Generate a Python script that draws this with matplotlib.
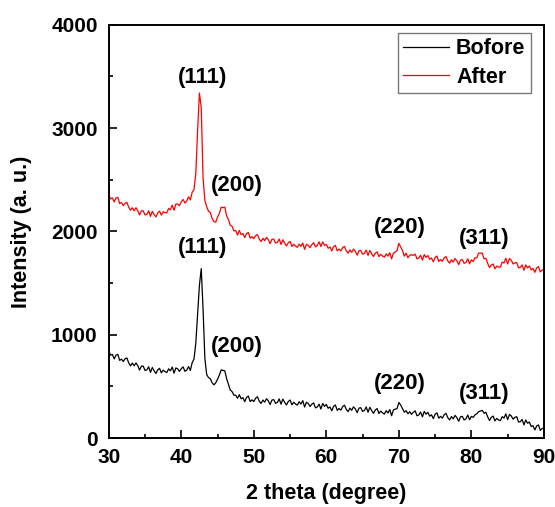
import numpy as np
import matplotlib
matplotlib.use('Agg')
import matplotlib.pyplot as plt
from matplotlib.ticker import MultipleLocator

plt.rcParams['font.family'] = ['Liberation Sans', 'DejaVu Sans']
plt.rcParams['font.weight'] = 'bold'

# XRD intensities, one row = 2 degrees at 0.25 degree steps
after_counts = [
    2355, 2315, 2325, 2285, 2325, 2330, 2270, 2280,
    2250, 2275, 2280, 2235, 2205, 2230, 2200, 2230,
    2200, 2160, 2200, 2200, 2160, 2165, 2200, 2145,
    2195, 2163, 2140, 2178, 2197, 2158, 2190, 2182,
    2180, 2223, 2210, 2255, 2205, 2265, 2265, 2250,
    2285, 2310, 2275, 2295, 2335, 2305, 2380, 2405,
    2560, 2980, 3340, 3200, 2520, 2300, 2240, 2195,
    2185, 2125, 2095, 2090, 2140, 2175, 2235, 2230,
    2235, 2150, 2115, 2060, 2050, 2005, 2010, 1965,
    2010, 1970, 1980, 1940, 1980, 1990, 1935, 1950,
    1930, 1960, 1970, 1925, 1902, 1934, 1911, 1943,
    1920, 1882, 1924, 1926, 1888, 1895, 1927, 1874,
    1920, 1887, 1859, 1891, 1903, 1855, 1877, 1859,
    1846, 1878, 1855, 1888, 1826, 1875, 1865, 1843,
    1872, 1891, 1850, 1865, 1900, 1853, 1900, 1865,
    1875, 1837, 1849, 1811, 1853, 1865, 1812, 1829,
    1811, 1843, 1855, 1812, 1789, 1821, 1798, 1830,
    1807, 1770, 1813, 1816, 1779, 1787, 1820, 1768,
    1816, 1784, 1757, 1790, 1803, 1756, 1779, 1762,
    1750, 1783, 1761, 1794, 1734, 1790, 1800, 1815,
    1885, 1850, 1815, 1760, 1790, 1745, 1770, 1775,
    1768, 1781, 1734, 1742, 1770, 1723, 1776, 1749,
    1767, 1730, 1743, 1706, 1749, 1762, 1710, 1728,
    1711, 1744, 1757, 1715, 1693, 1726, 1704, 1737,
    1715, 1679, 1723, 1727, 1691, 1700, 1735, 1686,
    1725, 1710, 1745, 1745, 1790, 1790, 1790, 1735,
    1740, 1690, 1650, 1675, 1685, 1638, 1665, 1655,
    1655, 1703, 1695, 1740, 1685, 1738, 1722, 1685,
    1695, 1700, 1648, 1652, 1676, 1625, 1676, 1647,
    1665, 1628, 1641, 1604, 1647, 1660, 1608, 1626,
    1630,
]

before_counts = [
    845, 802, 809, 766, 803, 810, 752, 764,
    741, 768, 775, 727, 699, 726, 699, 727,
    700, 658, 697, 696, 655, 660, 690, 636,
    683, 651, 625, 660, 675, 631, 657, 643,
    634, 670, 651, 687, 628, 679, 670, 646,
    672, 689, 646, 658, 692, 655, 730, 765,
    920, 1200, 1480, 1640, 1250, 770, 615, 585,
    575, 535, 515, 535, 570, 610, 660, 655,
    650, 575, 520, 465, 450, 415, 415, 385,
    420, 380, 391, 352, 394, 406, 353, 370,
    353, 386, 399, 357, 335, 368, 347, 381,
    360, 324, 368, 372, 336, 345, 379, 328,
    377, 346, 320, 354, 368, 322, 346, 330,
    318, 351, 329, 362, 300, 347, 334, 306,
    328, 340, 292, 300, 328, 281, 334, 307,
    325, 288, 301, 264, 307, 320, 268, 286,
    270, 304, 318, 277, 256, 290, 269, 303,
    282, 246, 290, 294, 258, 267, 301, 250,
    298, 266, 239, 272, 285, 238, 261, 244,
    232, 265, 243, 276, 216, 272, 280, 285,
    345, 320, 285, 250, 265, 235, 255, 230,
    250, 263, 216, 224, 252, 205, 258, 231,
    249, 212, 225, 188, 231, 244, 192, 210,
    193, 226, 239, 197, 175, 208, 186, 219,
    198, 162, 206, 210, 175, 186, 223, 177,
    210, 200, 225, 235, 255, 262, 268, 240,
    250, 205, 170, 200, 213, 166, 190, 175,
    168, 207, 193, 234, 178, 228, 214, 183,
    200, 207, 155, 158, 180, 127, 175, 143,
    155, 112, 120, 78, 117, 127, 74, 92,
    95,
]

two_theta = np.linspace(30, 90, len(after_counts))

# peak labels: (text, x, y)
after_peaks = [('(111)', 43.0, 3495), ('(200)', 47.6, 2440),
               ('(220)', 70.1, 2035), ('(311)', 81.7, 1935)]
before_peaks = [('(111)', 43.0, 1845), ('(200)', 47.6, 890),
                ('(220)', 70.1, 525), ('(311)', 81.7, 435)]


def main():
    fig = plt.figure(figsize=(5.55, 5.07), dpi=100)
    ax = fig.add_axes([0.196, 0.136, 0.784, 0.815])

    ax.plot(two_theta, before_counts, color='black', lw=0.9, label='Bofore')
    ax.plot(two_theta, after_counts, color='red', lw=0.9, label='After')

    for txt, x, y in after_peaks + before_peaks:
        ax.text(x, y, txt, ha='center', va='center', fontsize=16, fontweight='bold')

    ax.set_xlim(30, 90)
    ax.set_ylim(0, 4000)
    ax.xaxis.set_major_locator(MultipleLocator(10))
    ax.xaxis.set_minor_locator(MultipleLocator(5))
    ax.yaxis.set_major_locator(MultipleLocator(1000))
    ax.yaxis.set_minor_locator(MultipleLocator(500))
    ax.tick_params(which='both', direction='in', top=False, right=False, width=1.2)
    ax.tick_params(which='major', length=6, labelsize=15)
    ax.tick_params(axis='x', which='major', pad=7)
    ax.tick_params(axis='y', which='major', pad=8)
    ax.tick_params(which='minor', length=3)
    for s in ax.spines.values():
        s.set_linewidth(1.4)

    ax.set_xlabel('2 theta (degree)', fontsize=15.5, fontweight='bold', labelpad=12)
    ax.set_ylabel('Intensity (a. u.)', fontsize=15.5, fontweight='bold', labelpad=14)

    leg = ax.legend(loc='upper right', bbox_to_anchor=(0.97, 0.98),
                    fontsize=15.5, fancybox=False, handlelength=2.1,
                    borderpad=0.25, labelspacing=0.35, handletextpad=0.35,
                    borderaxespad=0.0)
    leg.get_frame().set_edgecolor('#555555')
    leg.get_frame().set_linewidth(1.0)

    fig.savefig('out.png', dpi=100)


if __name__ == '__main__':
    main()
